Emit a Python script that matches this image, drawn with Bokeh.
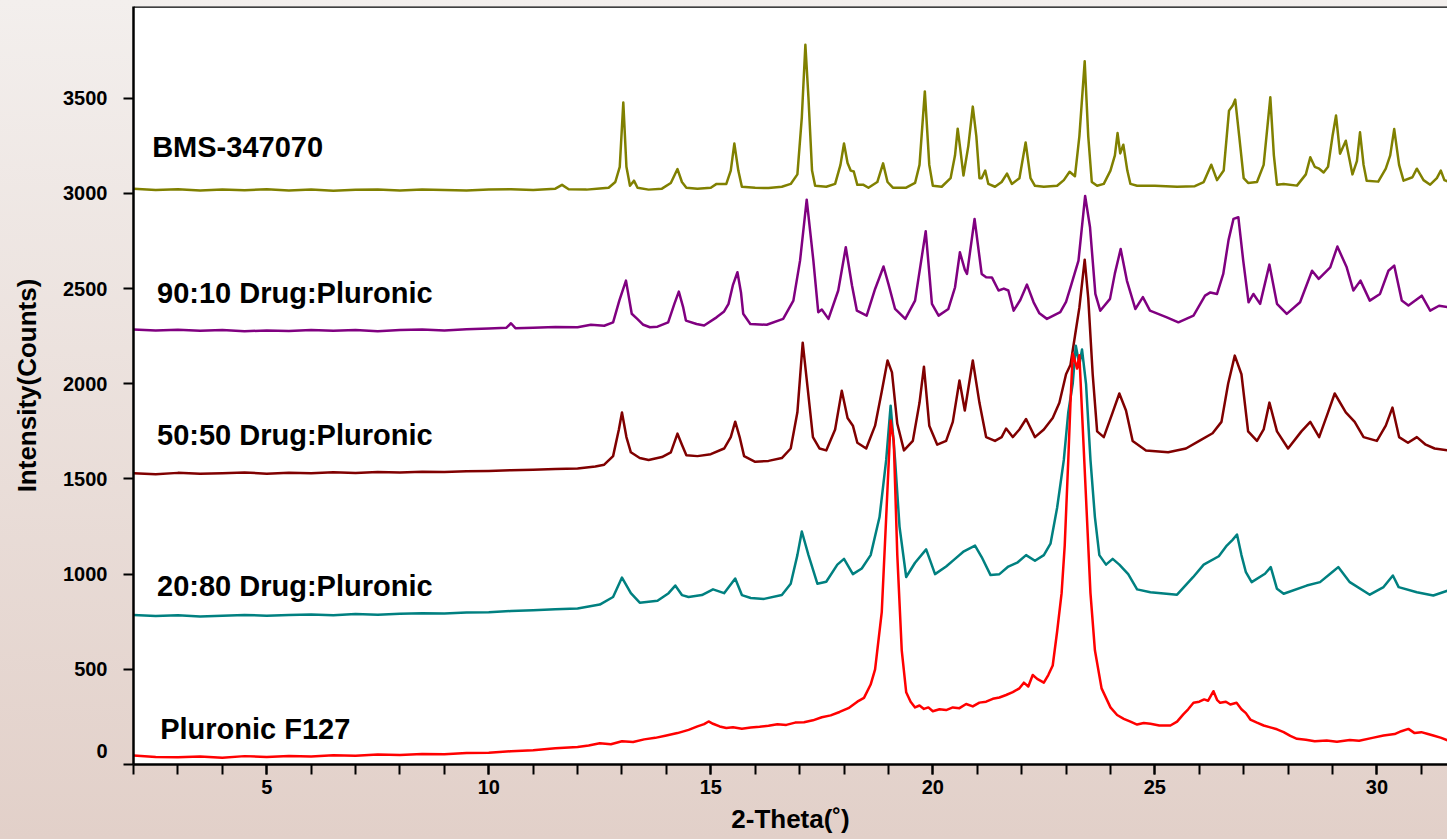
from bokeh.plotting import figure
from bokeh.models import Span, SingleIntervalTicker, FixedTicker, Range1d, Label
from bokeh.embed import file_html
from bokeh.resources import INLINE

# ---------------- data (2-theta, counts) ----------------
bms_347070 = [
    (2.0, 3025), (2.5, 3018), (3.0, 3022), (3.5, 3015), (4.0, 3020), (4.5, 3017), (5.0, 3022),
    (5.5, 3016), (6.0, 3020), (6.5, 3014), (7.0, 3019), (7.5, 3021), (8.0, 3016), (8.5, 3020),
    (9.0, 3018), (9.5, 3015), (10.0, 3020), (10.5, 3022), (11.0, 3018), (11.5, 3025), (11.65, 3045),
    (11.8, 3022), (12.2, 3020), (12.5, 3026), (12.7, 3030), (12.85, 3060), (12.95, 3140), (13.03, 3478),
    (13.1, 3140), (13.18, 3040), (13.27, 3067), (13.35, 3030), (13.6, 3020), (13.9, 3025), (14.1, 3055),
    (14.25, 3128), (14.35, 3060), (14.45, 3030), (14.7, 3025), (15.0, 3030), (15.13, 3050), (15.35, 3050),
    (15.45, 3120), (15.53, 3262), (15.62, 3120), (15.7, 3035), (16.0, 3030), (16.3, 3028), (16.6, 3035),
    (16.8, 3050), (16.95, 3100), (17.05, 3400), (17.13, 3781), (17.2, 3500), (17.28, 3120), (17.35, 3040),
    (17.6, 3035), (17.8, 3050), (17.92, 3150), (18.0, 3262), (18.08, 3160), (18.15, 3120), (18.22, 3115),
    (18.3, 3045), (18.43, 3046), (18.55, 3030), (18.75, 3060), (18.88, 3158), (18.98, 3060), (19.1, 3030),
    (19.4, 3030), (19.6, 3055), (19.7, 3150), (19.82, 3536), (19.92, 3150), (20.0, 3040), (20.2, 3035),
    (20.4, 3080), (20.5, 3200), (20.56, 3340), (20.62, 3230), (20.69, 3094), (20.8, 3250), (20.9, 3456),
    (20.98, 3300), (21.05, 3080), (21.1, 3080), (21.18, 3120), (21.25, 3050), (21.4, 3035), (21.55, 3060),
    (21.67, 3104), (21.78, 3050), (21.95, 3080), (22.09, 3268), (22.2, 3080), (22.3, 3040), (22.5, 3035),
    (22.8, 3040), (22.95, 3070), (23.08, 3114), (23.2, 3090), (23.3, 3300), (23.42, 3694), (23.5, 3300),
    (23.58, 3060), (23.7, 3040), (23.85, 3050), (24.0, 3120), (24.1, 3200), (24.16, 3317), (24.22, 3210),
    (24.29, 3256), (24.38, 3120), (24.45, 3050), (24.6, 3040), (25.0, 3040), (25.5, 3035), (25.9, 3038),
    (26.1, 3060), (26.27, 3151), (26.4, 3070), (26.55, 3120), (26.67, 3435), (26.75, 3460), (26.81, 3493),
    (26.9, 3300), (27.0, 3080), (27.1, 3055), (27.3, 3060), (27.45, 3150), (27.6, 3505), (27.68, 3200),
    (27.75, 3046), (27.9, 3050), (28.2, 3041), (28.4, 3100), (28.5, 3190), (28.6, 3140), (28.7, 3130),
    (28.8, 3110), (28.9, 3140), (29.0, 3300), (29.08, 3409), (29.17, 3209), (29.3, 3277), (29.45, 3100),
    (29.55, 3170), (29.62, 3321), (29.7, 3150), (29.77, 3067), (30.03, 3062), (30.2, 3130), (30.3, 3200),
    (30.39, 3338), (30.5, 3150), (30.6, 3067), (30.8, 3085), (30.9, 3130), (31.05, 3070), (31.2, 3046),
    (31.35, 3080), (31.44, 3120), (31.52, 3070), (31.6, 3062),
]

drug_90_10 = [
    (2.0, 2285), (2.5, 2280), (3.0, 2284), (3.5, 2278), (4.0, 2282), (4.5, 2276), (5.0, 2280),
    (5.5, 2277), (6.0, 2283), (6.5, 2278), (7.0, 2282), (7.5, 2276), (8.0, 2282), (8.5, 2285),
    (9.0, 2280), (9.5, 2286), (10.0, 2290), (10.4, 2295), (10.5, 2318), (10.6, 2292), (11.0, 2295),
    (11.5, 2298), (12.0, 2297), (12.3, 2310), (12.6, 2305), (12.8, 2323), (12.94, 2437), (13.09, 2542),
    (13.22, 2368), (13.35, 2340), (13.48, 2310), (13.63, 2297), (13.8, 2300), (14.04, 2323), (14.18, 2420),
    (14.28, 2484), (14.38, 2400), (14.44, 2332), (14.68, 2314), (14.85, 2306), (15.13, 2349), (15.3, 2380),
    (15.4, 2420), (15.5, 2520), (15.6, 2586), (15.68, 2480), (15.73, 2368), (15.89, 2314), (16.26, 2310),
    (16.63, 2341), (16.86, 2437), (17.01, 2647), (17.16, 2967), (17.31, 2647), (17.42, 2376), (17.5, 2390),
    (17.65, 2341), (17.87, 2490), (18.04, 2717), (18.18, 2516), (18.29, 2384), (18.51, 2358), (18.7, 2498),
    (18.8, 2560), (18.89, 2616), (19.0, 2525), (19.15, 2393), (19.38, 2341), (19.6, 2437), (19.84, 2801),
    (19.98, 2420), (20.13, 2358), (20.35, 2393), (20.5, 2507), (20.61, 2691), (20.72, 2600), (20.77, 2577),
    (20.94, 2866), (21.1, 2577), (21.2, 2560), (21.33, 2559), (21.48, 2490), (21.6, 2500), (21.7, 2490),
    (21.82, 2384), (21.97, 2440), (22.12, 2521), (22.27, 2428), (22.4, 2370), (22.57, 2341), (22.87, 2376),
    (23.0, 2430), (23.1, 2507), (23.28, 2647), (23.43, 2987), (23.54, 2822), (23.66, 2472), (23.77, 2384),
    (23.99, 2446), (24.1, 2580), (24.23, 2708), (24.37, 2542), (24.56, 2393), (24.73, 2455), (24.89, 2384),
    (25.27, 2349), (25.53, 2323), (25.87, 2358), (26.13, 2463), (26.25, 2480), (26.4, 2472), (26.54, 2577),
    (26.66, 2756), (26.77, 2866), (26.88, 2875), (26.99, 2647), (27.11, 2428), (27.22, 2472), (27.37, 2420),
    (27.58, 2626), (27.75, 2420), (27.97, 2367), (28.27, 2428), (28.54, 2594), (28.69, 2551), (28.95, 2612),
    (29.11, 2721), (29.32, 2612), (29.47, 2490), (29.63, 2542), (29.84, 2437), (30.07, 2472), (30.26, 2594),
    (30.39, 2621), (30.56, 2437), (30.71, 2411), (31.01, 2463), (31.2, 2384), (31.4, 2410), (31.6, 2402),
]

drug_50_50 = [
    (2.0, 1530), (2.5, 1525), (3.0, 1532), (3.5, 1527), (4.0, 1530), (4.5, 1534), (5.0, 1528),
    (5.5, 1532), (6.0, 1530), (6.5, 1535), (7.0, 1531), (7.5, 1536), (8.0, 1534), (8.5, 1538),
    (9.0, 1536), (9.5, 1540), (10.0, 1542), (10.5, 1546), (11.0, 1548), (11.5, 1552), (12.0, 1555),
    (12.4, 1565), (12.6, 1575), (12.8, 1620), (12.93, 1760), (13.0, 1849), (13.1, 1720), (13.2, 1640),
    (13.4, 1610), (13.6, 1600), (13.9, 1615), (14.1, 1640), (14.25, 1738), (14.35, 1680), (14.45, 1625),
    (14.7, 1620), (15.0, 1630), (15.3, 1660), (15.45, 1720), (15.55, 1801), (15.65, 1720), (15.75, 1620),
    (16.0, 1590), (16.3, 1595), (16.6, 1610), (16.8, 1660), (16.95, 1850), (17.07, 2216), (17.18, 1980),
    (17.3, 1720), (17.45, 1660), (17.6, 1650), (17.8, 1760), (17.95, 1964), (18.08, 1820), (18.2, 1780),
    (18.3, 1690), (18.5, 1660), (18.7, 1780), (18.85, 1960), (18.98, 2122), (19.08, 2060), (19.2, 1790),
    (19.35, 1650), (19.55, 1700), (19.7, 1900), (19.8, 2090), (19.92, 1780), (20.1, 1680), (20.3, 1700),
    (20.45, 1800), (20.6, 2017), (20.72, 1860), (20.9, 2122), (21.05, 1900), (21.2, 1720), (21.4, 1700),
    (21.55, 1720), (21.65, 1765), (21.8, 1720), (21.95, 1760), (22.1, 1815), (22.3, 1720), (22.5, 1760),
    (22.7, 1820), (22.85, 1900), (23.0, 2050), (23.1, 2100), (23.2, 2250), (23.3, 2400), (23.42, 2652),
    (23.5, 2450), (23.6, 2050), (23.7, 1750), (23.85, 1720), (24.05, 1850), (24.2, 1949), (24.35, 1860),
    (24.5, 1700), (24.8, 1650), (25.3, 1640), (25.7, 1660), (26.0, 1700), (26.3, 1740), (26.5, 1800),
    (26.65, 2000), (26.8, 2148), (26.95, 2050), (27.1, 1750), (27.3, 1700), (27.45, 1760), (27.58, 1901),
    (27.75, 1750), (28.0, 1660), (28.3, 1750), (28.5, 1800), (28.7, 1720), (28.9, 1850), (29.05, 1949),
    (29.3, 1850), (29.5, 1800), (29.7, 1720), (30.0, 1700), (30.2, 1780), (30.35, 1875), (30.5, 1720),
    (30.7, 1690), (30.9, 1720), (31.1, 1680), (31.3, 1660), (31.6, 1650),
]

drug_20_80 = [
    (2.0, 785), (2.5, 780), (3.0, 784), (3.5, 778), (4.0, 782), (4.5, 786), (5.0, 781), (5.5, 785),
    (6.0, 788), (6.5, 784), (7.0, 790), (7.5, 787), (8.0, 792), (8.5, 795), (9.0, 793), (9.5, 798),
    (10.0, 800), (10.5, 806), (11.0, 810), (11.5, 815), (12.0, 820), (12.5, 840), (12.8, 880),
    (13.0, 982), (13.2, 900), (13.4, 850), (13.8, 860), (14.05, 900), (14.2, 940), (14.35, 890),
    (14.5, 880), (14.8, 890), (15.05, 920), (15.3, 900), (15.55, 977), (15.7, 890), (15.9, 875),
    (16.2, 870), (16.6, 890), (16.8, 950), (16.95, 1100), (17.05, 1224), (17.2, 1100), (17.4, 950),
    (17.6, 960), (17.85, 1050), (18.0, 1080), (18.2, 1000), (18.4, 1030), (18.6, 1100), (18.8, 1300),
    (18.95, 1600), (19.05, 1885), (19.15, 1600), (19.25, 1250), (19.4, 985), (19.6, 1060), (19.85, 1130),
    (20.05, 1000), (20.3, 1040), (20.5, 1080), (20.7, 1120), (20.95, 1150), (21.1, 1090), (21.3, 995),
    (21.5, 1000), (21.7, 1040), (21.9, 1060), (22.1, 1100), (22.3, 1070), (22.5, 1100), (22.65, 1160),
    (22.8, 1350), (22.95, 1600), (23.05, 1850), (23.15, 2000), (23.22, 2200), (23.3, 2100),
    (23.36, 2180), (23.45, 2000), (23.55, 1600), (23.65, 1300), (23.75, 1100), (23.9, 1050), (24.05, 1080),
    (24.2, 1050), (24.4, 1000), (24.6, 920), (24.9, 905), (25.5, 892), (25.86, 984), (26.1, 1050),
    (26.44, 1094), (26.62, 1150), (26.75, 1180), (26.85, 1208), (26.95, 1100), (27.05, 1010), (27.18, 958),
    (27.48, 1002), (27.61, 1037), (27.75, 923), (27.9, 897), (28.42, 940), (28.72, 958), (28.99, 1010),
    (29.13, 1037), (29.39, 958), (29.84, 892), (30.15, 932), (30.36, 993), (30.49, 932), (30.9, 905),
    (31.27, 888), (31.6, 914),
]

pluronic_f127 = [
    (2.0, 47), (2.5, 40), (3.0, 38), (3.5, 42), (4.0, 36), (4.5, 44), (5.0, 40), (5.5, 45), (6.0, 42),
    (6.5, 48), (7.0, 46), (7.5, 52), (8.0, 50), (8.5, 55), (9.0, 54), (9.5, 60), (10.0, 62), (10.5, 70),
    (11.0, 75), (11.5, 85), (12.0, 92), (12.25, 100), (12.5, 112), (12.75, 106), (13.0, 122), (13.25, 118),
    (13.5, 132), (13.75, 140), (14.0, 152), (14.25, 165), (14.5, 182), (14.7, 200), (14.85, 212),
    (14.95, 226), (15.05, 214), (15.2, 200), (15.35, 192), (15.5, 196), (15.7, 188), (15.9, 194),
    (16.1, 198), (16.3, 204), (16.5, 212), (16.7, 208), (16.9, 220), (17.1, 222), (17.3, 232), (17.5, 248),
    (17.7, 258), (17.9, 276), (18.1, 296), (18.3, 330), (18.45, 350), (18.6, 420), (18.7, 500),
    (18.85, 800), (18.95, 1300), (19.05, 1807), (19.12, 1700), (19.2, 1100), (19.3, 600), (19.4, 380),
    (19.5, 330), (19.6, 300), (19.7, 310), (19.8, 292), (19.9, 300), (20.0, 280), (20.15, 290), (20.3, 286),
    (20.45, 300), (20.6, 296), (20.75, 318), (20.9, 305), (21.05, 325), (21.2, 330), (21.35, 345),
    (21.5, 352), (21.65, 365), (21.8, 380), (21.95, 400), (22.05, 430), (22.15, 410), (22.25, 470),
    (22.35, 450), (22.5, 430), (22.6, 470), (22.7, 520), (22.8, 700), (22.9, 900), (22.97, 1150),
    (23.05, 1600), (23.1, 1900), (23.15, 2158), (23.25, 2080), (23.3, 2150), (23.35, 1900), (23.45, 1400),
    (23.55, 900), (23.65, 600), (23.8, 400), (24.0, 300), (24.15, 260), (24.3, 240), (24.45, 225),
    (24.6, 210), (24.75, 218), (24.9, 214), (25.1, 205), (25.35, 205), (25.5, 225), (25.64, 263),
    (25.75, 290), (25.87, 324), (26.0, 330), (26.11, 342), (26.2, 335), (26.32, 385), (26.4, 340),
    (26.47, 324), (26.6, 330), (26.7, 315), (26.84, 324), (26.95, 290), (27.05, 270), (27.15, 236),
    (27.3, 220), (27.45, 205), (27.6, 195), (27.75, 185), (27.9, 170), (28.05, 150), (28.2, 135),
    (28.4, 130), (28.6, 122), (28.87, 126), (29.1, 120), (29.39, 129), (29.6, 125), (29.9, 140),
    (30.15, 152), (30.4, 160), (30.55, 175), (30.71, 187), (30.85, 165), (31.0, 170), (31.15, 160),
    (31.27, 152), (31.45, 140), (31.6, 126),
]

series_names = ["BMS-347070", "90:10 Drug:Pluronic", "50:50 Drug:Pluronic",
                "20:80 Drug:Pluronic", "Pluronic F127"]
series_data = [bms_347070, drug_90_10, drug_50_50, drug_20_80, pluronic_f127]
series_colors = ["#808000", "#800080", "#800000", "#008080", "#ff0000"]
y_ticks = [0, 500, 1000, 1500, 2000, 2500, 3000, 3500]

# label anchor positions (data coords, left-middle of text)
label_pos = [(2.42, 3246), (2.53, 2479), (2.53, 1733), (2.53, 940), (2.6, 184)]

FONT = "Liberation Sans"
X0, X1, Y0, Y1 = 2.0, 31.59, 0, 3982

W, H = 1447, 839
p = figure(width=W, height=H, output_backend="svg", toolbar_location=None,
           x_range=Range1d(X0, X1), y_range=Range1d(Y0, Y1),
           x_axis_label="2-Theta(\u02da)", y_axis_label="Intensity(Counts)",
           min_border_left=133, min_border_right=0, min_border_top=6, min_border_bottom=75)
p.background_fill_color = "white"
p.border_fill_color = None
p.outline_line_color = None
p.grid.visible = False
p.styles = {"background": "linear-gradient(#f3efed, #e2d0c9)"}

for ax in (p.xaxis[0], p.yaxis[0]):
    ax.axis_line_width = 2.5
    ax.axis_line_color = "black"
    ax.major_tick_line_width = 2
    ax.minor_tick_line_width = 2
    ax.major_tick_in = 0
    ax.major_tick_out = 10
    ax.major_label_text_font = FONT
    ax.major_label_text_font_style = "bold"
    ax.major_label_text_font_size = "20px"
    ax.major_label_text_color = "black"
    ax.axis_label_text_font = FONT
    ax.axis_label_text_font_style = "bold"
    ax.axis_label_text_font_size = "26px"
    ax.axis_label_text_color = "black"

xa = p.xaxis[0]
xa.ticker = SingleIntervalTicker(interval=5, num_minor_ticks=5)
xa.minor_tick_in = 0
xa.minor_tick_out = 10
xa.major_label_standoff = 5
xa.axis_label_standoff = 7

ya = p.yaxis[0]
ya.ticker = FixedTicker(ticks=y_ticks, minor_ticks=[])
ya.major_label_overrides = {0: "0\n "}
ya.minor_tick_out = 0
ya.minor_tick_in = 0
ya.major_label_standoff = 16
ya.axis_label_standoff = 18

# top border
p.add_layout(Span(location=Y1, dimension="width", line_color="black", line_width=2.5))

for name, data, color, (lx, ly) in zip(series_names, series_data, series_colors, label_pos):
    xs = [d[0] for d in data]
    ys = [d[1] for d in data]
    p.line(xs, ys, line_color=color, line_width=2.5, line_join="round")
    p.add_layout(Label(x=lx, y=ly, text=name, text_font=FONT, text_font_style="bold",
                       text_font_size="29px", text_color="black",
                       text_align="left", text_baseline="middle"))

html = file_html(p, INLINE)
open("out.html", "w").write(html)
